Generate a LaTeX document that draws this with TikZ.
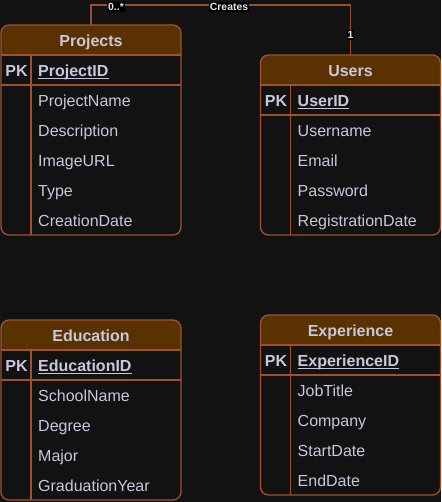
\documentclass[tikz,border=0pt]{standalone}
\usepackage{fontspec}
\setmainfont{Liberation Sans}
\definecolor{bgc}{HTML}{121212}
\definecolor{hdrc}{HTML}{5A3100}
\definecolor{brd}{HTML}{A0522D}
\definecolor{connc}{HTML}{9A5030}
\definecolor{txt}{HTML}{C8C8DC}
\definecolor{lbl}{HTML}{E6E6E6}
\tikzset{
  tbl/.style={rectangle, rounded corners=8pt, minimum width=180pt, inner sep=0pt, outer sep=0pt, fill=bgc},
  rim/.style={draw=brd, line width=1.3pt},
  title/.style={font=\fontsize{16}{19}\selectfont\bfseries, text=txt, anchor=base, inner sep=0pt},
  pkey/.style={font=\fontsize{16}{19}\selectfont\bfseries, text=txt, anchor=base, inner sep=0pt},
  field/.style={font=\fontsize{16}{19}\selectfont, text=txt, anchor=base west, inner sep=0pt},
  conn/.style={draw=connc, line width=1.3pt},
  clabel/.style={font=\fontsize{10.4}{12}\selectfont\bfseries, text=lbl, fill=black, inner sep=1pt}
}
% #1 name, #2 left x, #3 top y, #4 title, #5 pk, #6 fields
\newcommand\ertable[6]{%
  \foreach \f [count=\i] in {#6} {\xdef\ernf{\i}}%
  \pgfmathsetmacro\erh{60+30*\ernf}%
  \node[tbl, minimum height=\erh pt, anchor=north west] (#1) at (#2,#3) {};
  \begin{scope}
    \clip (#1.north west) rectangle ([yshift=-30pt]#1.north east);
    \fill[hdrc, rounded corners=8pt] (#1.north west) rectangle (#1.south east);
  \end{scope}
  \draw[rim, rounded corners=8pt] (#1.north west) rectangle (#1.south east);
  \draw[rim] ([yshift=-30pt]#1.north west) -- ([yshift=-30pt]#1.north east);
  \draw[rim] ([yshift=-60pt]#1.north west) -- ([yshift=-60pt]#1.north east);
  \draw[rim] ([xshift=30pt,yshift=-30pt]#1.north west) -- ([xshift=30pt]#1.south west);
  \node[title] (#1-title) at ($(#1.north)+(0,21.2)$) {#4};
  \node[pkey] (#1-pk) at ($(#1.north west)+(15.5,51.2)$) {PK};
  \node[field, font=\fontsize{16}{19}\selectfont\bfseries] (#1-id) at ($(#1.north west)+(37,51.2)$) {#5};
  \draw[txt, line width=1pt] ([yshift=-2.2pt]#1-id.base west) -- ([yshift=-2.2pt]#1-id.base east);
  \foreach \f [count=\i] in {#6} {
    \node[field] (#1-f\i) at ($(#1.north west)+(37,51.2+30*\i)$) {\f};
  }
}
\usetikzlibrary{calc}
\begin{document}
\begin{tikzpicture}[x=1pt,y=-1pt]
\fill[bgc] (0,0) rectangle (441,502);
\useasboundingbox (0,0) rectangle (441,502);
\ertable{proj}{1}{25}{Projects}{ProjectID}{ProjectName,Description,ImageURL,Type,CreationDate}
\ertable{users}{260.5}{55}{Users}{UserID}{Username,Email,Password,RegistrationDate}
\ertable{edu}{1}{320}{Education}{EducationID}{SchoolName,Degree,Major,GraduationYear}
\ertable{exp}{260.5}{315}{Experience}{ExperienceID}{JobTitle,Company,StartDate,EndDate}
\coordinate (bend) at (91,5);
\draw[conn] (proj.north) -- (bend) -| (users.north);
\node[clabel] (card0) at (116,7) {0..*};
\node[clabel] (rel) at (229,7) {Creates};
\node[clabel] (card1) at (350.5,35) {1};
\end{tikzpicture}
\end{document}
